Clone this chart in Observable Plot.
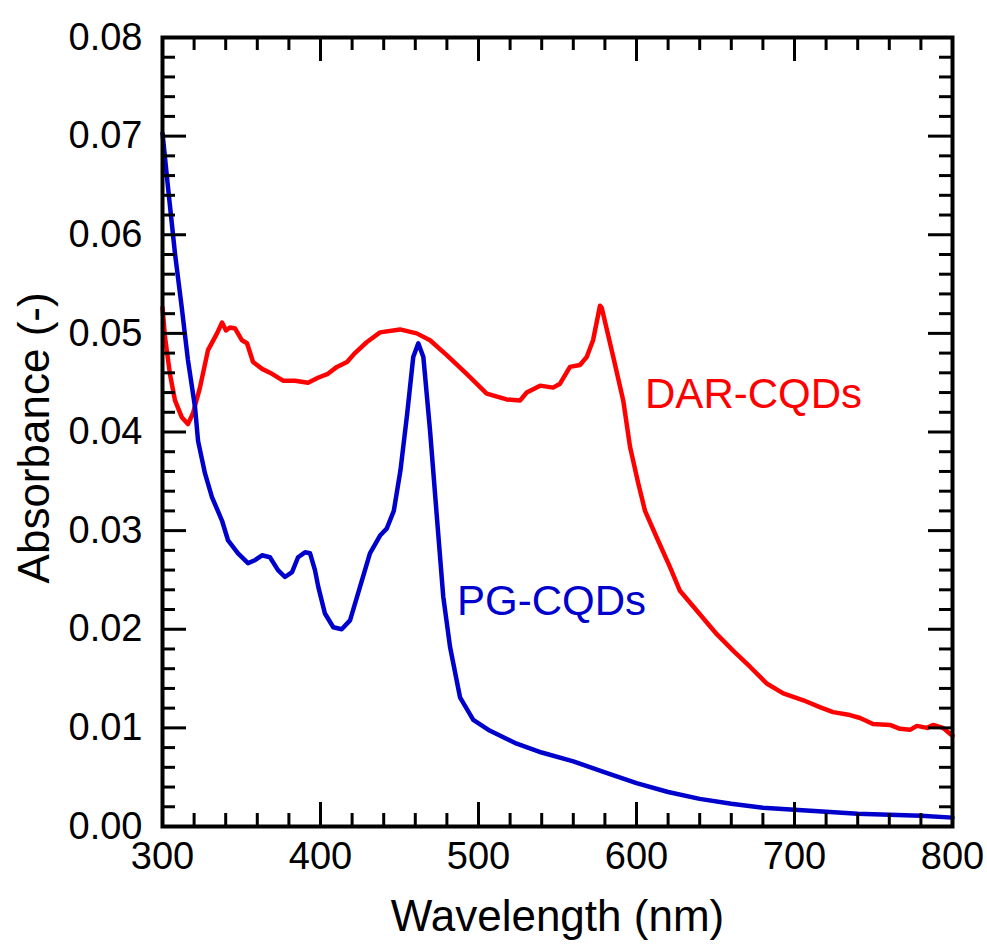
<!DOCTYPE html>
<html>
<head>
<meta charset="utf-8">
<script src="https://cdn.jsdelivr.net/npm/d3@7"></script>
<script src="https://cdn.jsdelivr.net/npm/@observablehq/plot@0.6"></script>
<style>
  body { margin: 0; background: #fff; }
  #chart { width: 987px; height: 947px; }
</style>
</head>
<body>
<div id="chart"></div>
<script>
// DAR-CQDs (red)
const darWavelength = [300, 301.6, 304.7, 307.9, 312.2, 316.1, 319.3, 323.7, 328.8, 334.5, 337.7, 340.2, 342.7, 345.9, 350.3, 353.5, 357.3, 363, 369.3, 376.3, 383.9, 392.1, 398.4, 404.7, 410.4, 416.8, 421.8, 429.2, 437.7, 450.3, 460.9, 469.3, 479.9, 492.5, 505.2, 517.8, 526.3, 530.5, 539, 547.2, 551.6, 557.9, 564.2, 568.5, 572.5, 576.9, 578, 585.3, 591.6, 595.9, 601.1, 605.4, 612.8, 621.2, 627.5, 638.1, 650.8, 661.3, 671.8, 682.4, 692.9, 705.6, 716, 724.4, 735.1, 741.5, 749.7, 760.4, 766.8, 773.1, 777.5, 783.9, 787.7, 794, 798.4, 800];
const darAbsorbance = [0.0526, 0.0496, 0.0459, 0.0432, 0.0415, 0.0408, 0.0419, 0.0445, 0.0483, 0.0500, 0.0511, 0.0503, 0.0506, 0.0505, 0.0493, 0.0490, 0.0471, 0.0464, 0.0459, 0.0452, 0.0452, 0.0450, 0.0455, 0.0459, 0.0466, 0.0471, 0.0480, 0.0491, 0.0501, 0.0504, 0.0500, 0.0493, 0.0478, 0.0459, 0.0439, 0.0433, 0.0432, 0.0440, 0.0447, 0.0445, 0.0449, 0.0466, 0.0468, 0.0476, 0.0493, 0.0528, 0.0526, 0.0476, 0.0432, 0.0385, 0.0348, 0.0320, 0.0293, 0.0263, 0.0239, 0.0219, 0.0195, 0.0178, 0.0162, 0.0145, 0.0135, 0.0128, 0.0121, 0.0116, 0.0113, 0.0110, 0.0104, 0.0103, 0.0099, 0.0098, 0.0102, 0.0100, 0.0103, 0.0100, 0.0094, 0.0092];

// PG-CQDs (blue)
const pgWavelength = [300, 303.5, 307.9, 312.2, 316.1, 320.6, 322.5, 326.9, 331.3, 337.7, 341.5, 347.8, 354.1, 358.5, 363, 368, 373.1, 377.5, 382, 385.8, 390.2, 393.4, 396.5, 398.6, 402.8, 408.1, 413.4, 418.7, 425, 431.3, 437.7, 441.9, 446.4, 450.6, 454.9, 458.7, 461.9, 465.1, 469.3, 473.5, 477.7, 482, 488.3, 496.7, 507.3, 524.2, 540, 560, 580, 600, 620, 640, 660, 680, 700, 720, 740, 760, 780, 800];
const pgAbsorbance = [0.0703, 0.0648, 0.0581, 0.0526, 0.0473, 0.0425, 0.0391, 0.0358, 0.0334, 0.0310, 0.0290, 0.0277, 0.0267, 0.0270, 0.0275, 0.0273, 0.0260, 0.0253, 0.0258, 0.0273, 0.0278, 0.0277, 0.0260, 0.0243, 0.0216, 0.0202, 0.0200, 0.0209, 0.0243, 0.0277, 0.0295, 0.0302, 0.0320, 0.0361, 0.0419, 0.0476, 0.0490, 0.0476, 0.0402, 0.0317, 0.0233, 0.0182, 0.0131, 0.0108, 0.0097, 0.0084, 0.0075, 0.0066, 0.0055, 0.0044, 0.0035, 0.0028, 0.0023, 0.0019, 0.0017, 0.0015, 0.0013, 0.0012, 0.0011, 0.0009];

// Ticks
const xMajorTicks = [300, 400, 500, 600, 700, 800];
const xMinorTicks = [320, 340, 360, 380, 420, 440, 460, 480, 520, 540, 560, 580, 620, 640, 660, 680, 720, 740, 760, 780];
const yMajorTicks = [0, 0.01, 0.02, 0.03, 0.04, 0.05, 0.06, 0.07, 0.08];
const yMinorTicks = [0.002, 0.004, 0.006, 0.008, 0.012, 0.014, 0.016, 0.018, 0.022, 0.024, 0.026, 0.028, 0.032, 0.034, 0.036, 0.038, 0.042, 0.044, 0.046, 0.048, 0.052, 0.054, 0.056, 0.058, 0.062, 0.064, 0.066, 0.068, 0.072, 0.074, 0.076, 0.078];

// Series labels (data coordinates)
const seriesNames = ["DAR-CQDs", "PG-CQDs"];
const seriesColors = ["#ff0000", "#0000cc"];
const labelX = [605.4, 486.4];
const labelY = [0.0424, 0.0214];

// Axis titles
const xLabel = "Wavelength (nm)";
const yLabel = "Absorbance (-)";
const yLabelPos = {x: 219.5, y: 0.0394}; // data coordinates, left of the frame

const W = 987, H = 947, mL = 162, mR = 35, mT = 37, mB = 121;
const iW = W - mL - mR, iH = H - mT - mB;
const majorLen = 24, minorLen = 13;

const dar = darWavelength.map((x, i) => ({x, y: darAbsorbance[i]}));
const pg = pgWavelength.map((x, i) => ({x, y: pgAbsorbance[i]}));
const labels = seriesNames.map((name, i) => ({name, x: labelX[i], y: labelY[i], color: seriesColors[i]}));

const tickStyle = {stroke: "black", strokeWidth: 3};

const chart = Plot.plot({
  width: W,
  height: H,
  marginLeft: mL,
  marginRight: mR,
  marginTop: mT,
  marginBottom: mB,
  style: {fontFamily: "'Liberation Sans', Arial, sans-serif", background: "white", color: "black"},
  x: {domain: [300, 800]},
  y: {domain: [0, 0.08]},
  marks: [
    Plot.line(dar, {x: "x", y: "y", stroke: seriesColors[0], strokeWidth: 4.5, strokeLinejoin: "round"}),
    Plot.line(pg, {x: "x", y: "y", stroke: seriesColors[1], strokeWidth: 4.5, strokeLinejoin: "round"}),
    // bottom & top ticks
    Plot.tickX(xMajorTicks, {x: d => d, insetTop: iH - majorLen, ...tickStyle}),
    Plot.tickX(xMajorTicks, {x: d => d, insetBottom: iH - majorLen, ...tickStyle}),
    Plot.tickX(xMinorTicks, {x: d => d, insetTop: iH - minorLen, ...tickStyle}),
    Plot.tickX(xMinorTicks, {x: d => d, insetBottom: iH - minorLen, ...tickStyle}),
    // left & right ticks
    Plot.tickY(yMajorTicks, {y: d => d, insetRight: iW - majorLen, ...tickStyle}),
    Plot.tickY(yMajorTicks, {y: d => d, insetLeft: iW - majorLen, ...tickStyle}),
    Plot.tickY(yMinorTicks, {y: d => d, insetRight: iW - minorLen, ...tickStyle}),
    Plot.tickY(yMinorTicks, {y: d => d, insetLeft: iW - minorLen, ...tickStyle}),
    Plot.frame({stroke: "black", strokeWidth: 4}),
    Plot.axisX(xMajorTicks, {tickSize: 0, tickPadding: 16, fontSize: 38, label: null}),
    Plot.axisY(yMajorTicks, {tickSize: 0, tickPadding: 20, fontSize: 38, label: null, tickFormat: d3.format(".2f")}),
    Plot.text([xLabel], {text: d => d, frameAnchor: "bottom", dy: 104, lineAnchor: "bottom", fontSize: 44}),
    Plot.text([yLabel], {text: d => d, x: () => yLabelPos.x, y: () => yLabelPos.y, rotate: -90, textAnchor: "middle", lineAnchor: "middle", fontSize: 44}),
    Plot.text(labels, {x: "x", y: "y", text: "name", fill: "color", textAnchor: "start", lineAnchor: "bottom", fontSize: 42})
  ]
});

document.getElementById("chart").appendChild(chart);
</script>
</body>
</html>
